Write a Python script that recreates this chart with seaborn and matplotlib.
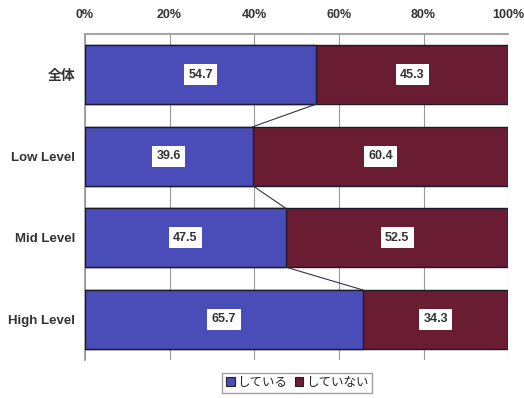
import matplotlib
matplotlib.use("Agg")
import matplotlib.pyplot as plt
import seaborn as sns
import pandas as pd
from matplotlib.patches import Patch

categories = ["全体", "Low Level", "Mid Level", "High Level"]
doing = [54.7, 39.6, 47.5, 65.7]
not_doing = [45.3, 60.4, 52.5, 34.3]
series_names = ["している", "していない"]
xtick_labels = ["0%", "20%", "40%", "60%", "80%", "100%"]

blue = "#4a4cb8"
maroon = "#6a1c32"

sns.set_theme(style="white")
plt.rcParams["font.family"] = ["Liberation Sans", "Noto Sans CJK JP"]

df = pd.DataFrame({
    "category": categories,
    "doing": doing,
    "total": [a + b for a, b in zip(doing, not_doing)],
})

fig = plt.figure(figsize=(5.24, 3.98), dpi=100)
ax = fig.add_axes([0.162, 0.095, 0.808, 0.82])

bar_h = 0.72
sns.barplot(data=df, x="total", y="category", orient="h", color=maroon,
            saturation=1, width=bar_h, edgecolor="#1a1a2a", linewidth=1.0, ax=ax, zorder=3)
sns.barplot(data=df, x="doing", y="category", orient="h", color=blue,
            saturation=1, width=bar_h, edgecolor="#1a1a2a", linewidth=1.0, ax=ax, zorder=4)

# series lines joining the split points of neighbouring bars
for i in range(len(categories) - 1):
    ax.plot([doing[i], doing[i + 1]], [i + bar_h / 2, i + 1 - bar_h / 2],
            color="#333344", lw=0.8, zorder=5)

# value labels in white boxes
box = dict(boxstyle="square,pad=0.35", facecolor="white", edgecolor="none")
for i in range(len(categories)):
    ax.text(doing[i] / 2, i, f"{doing[i]:.1f}", ha="center", va="center",
            fontsize=9, fontweight="bold", color="#333333", bbox=box, zorder=6)
    ax.text(doing[i] + not_doing[i] / 2, i, f"{not_doing[i]:.1f}", ha="center",
            va="center", fontsize=9, fontweight="bold", color="#333333", bbox=box, zorder=6)

ax.set_xlim(0, 100)
ax.set_ylim(3.5, -0.5)
ax.set_xticks([0, 20, 40, 60, 80, 100])
ax.set_xticklabels(xtick_labels, fontsize=9, fontweight="bold", color="#333333")
ax.xaxis.tick_top()
ax.tick_params(axis="x", length=0, pad=9)
ax.set_yticks(range(len(categories)))
ax.set_yticklabels(categories, fontsize=9.5, fontweight="bold", color="#333333")
ax.get_yticklabels()[0].set_fontsize(10)
ax.tick_params(axis="y", length=0, pad=7)
ax.set_yticks([0.5, 1.5, 2.5], minor=True)
ax.tick_params(axis="y", which="minor", length=3, direction="in", color="#666666")
ax.set_xlabel("")
ax.set_ylabel("")

ax.grid(axis="x", color="#999999", lw=0.8, zorder=0)
for side in ["bottom", "right"]:
    ax.spines[side].set_visible(False)
ax.spines["top"].set_color("#999999")
ax.spines["left"].set_color("#999999")

handles = [Patch(facecolor=blue, edgecolor="#222222", lw=0.8),
           Patch(facecolor=maroon, edgecolor="#222222", lw=0.8)]
fig.legend(handles, series_names, loc="center", bbox_to_anchor=(297 / 524, 1 - 383 / 398),
           ncol=2, fontsize=9, frameon=True, fancybox=False, edgecolor="#888888",
           handlelength=0.7, handleheight=0.7, handletextpad=0.2, columnspacing=0.6,
           borderpad=0.3)

fig.savefig("out.png", dpi=100)
